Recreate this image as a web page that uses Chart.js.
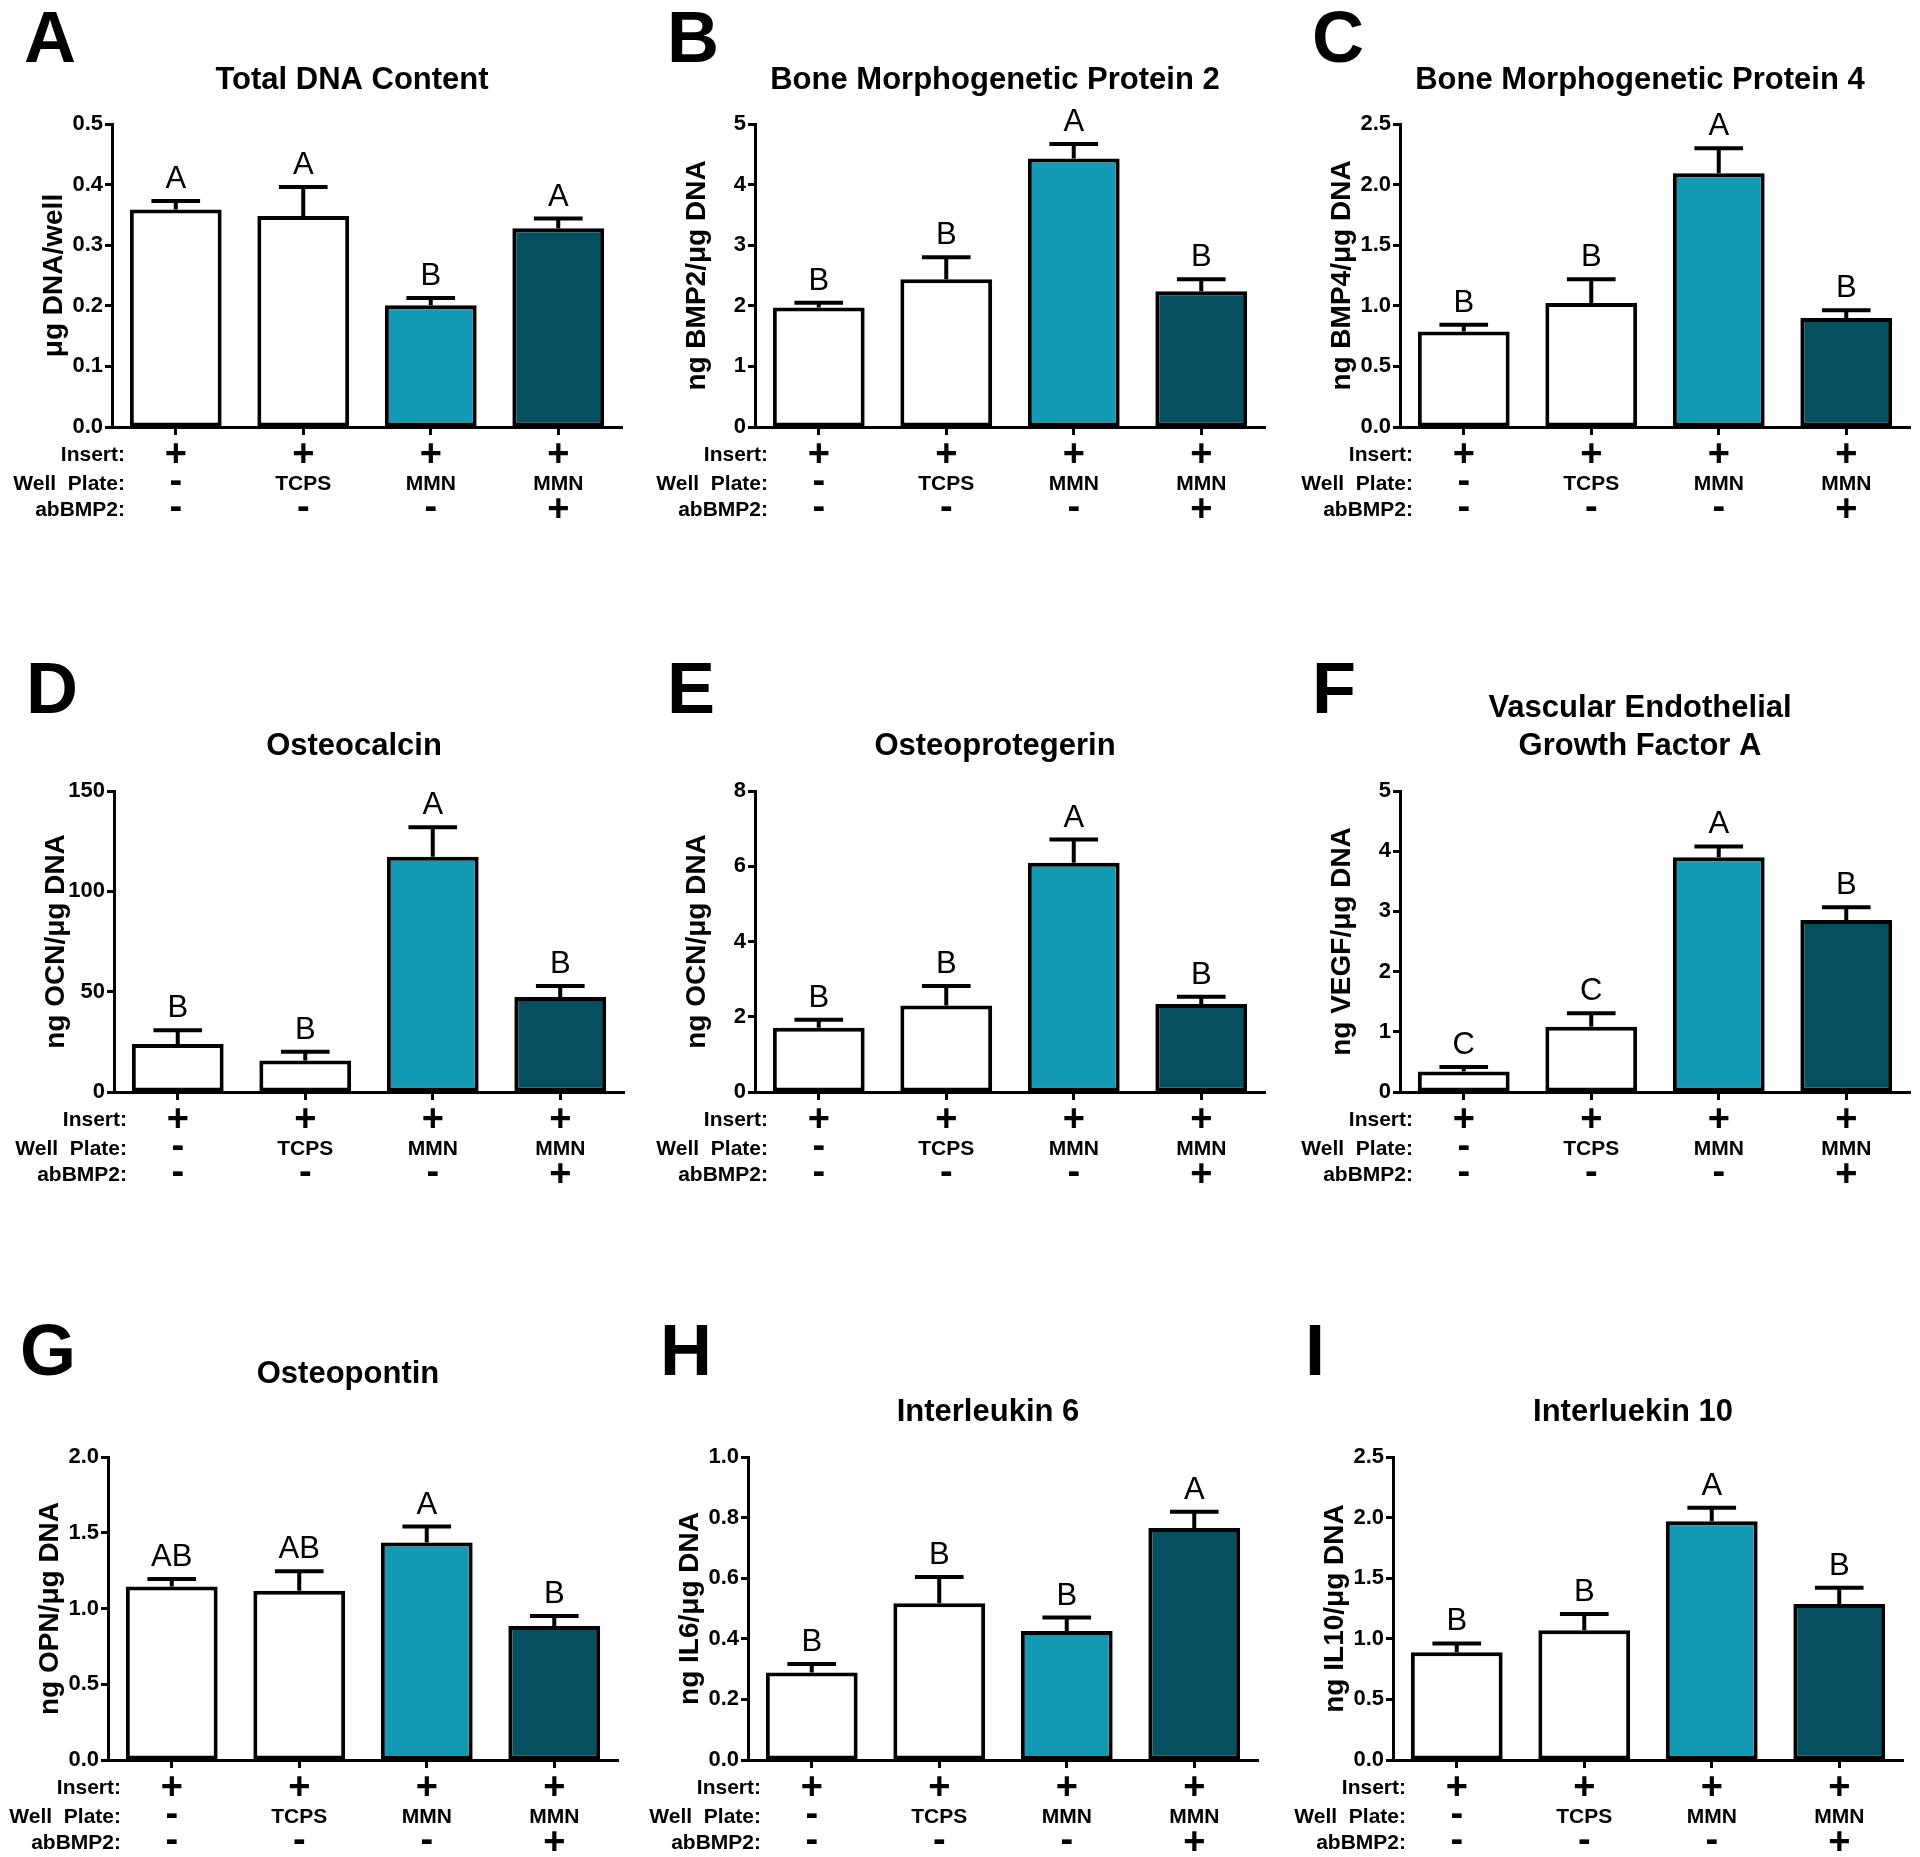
<!DOCTYPE html>
<html>
<head>
<meta charset="utf-8">
<title>Bone marker panels</title>
<script src="https://cdn.jsdelivr.net/npm/chart.js@4.4.1/dist/chart.umd.min.js"></script>
<style>
  html, body { margin: 0; padding: 0; background: #fff; }
  #fig { position: relative; width: 1920px; height: 1857px; overflow: hidden; }
  #fig canvas { position: absolute; }
</style>
</head>
<body>
<div id="fig"></div>
<script>
// groups (x categories) and the condition table under each chart
const groups = ['Insert', 'Insert + TCPS', 'Insert + MMN', 'Insert + MMN + abBMP2'];
const rowNames = ['Insert:', 'Well  Plate:', 'abBMP2:'];
const insertRow = ['+', '+', '+', '+'];
const wellPlateRow = ['-', 'TCPS', 'MMN', 'MMN'];
const abBMP2Row = ['-', '-', '-', '+'];

// A - Total DNA content
const meanA = [0.359, 0.348, 0.201, 0.328];
const errA = [0.014, 0.048, 0.012, 0.016];
const sigA = ['A', 'A', 'B', 'A'];
// B - BMP2
const meanB = [1.97, 2.44, 4.43, 2.24];
const errB = [0.08, 0.36, 0.24, 0.20];
const sigB = ['B', 'B', 'A', 'B'];
// C - BMP4
const meanC = [0.787, 1.023, 2.094, 0.90];
const errC = [0.057, 0.197, 0.206, 0.063];
const sigC = ['B', 'B', 'A', 'B'];
// D - Osteocalcin
const meanD = [23.9, 15.7, 117.2, 47.4];
const errD = [6.9, 4.3, 14.7, 5.4];
const sigD = ['B', 'B', 'A', 'B'];
// E - Osteoprotegerin
const meanE = [1.71, 2.30, 6.09, 2.34];
const errE = [0.21, 0.52, 0.62, 0.19];
const sigE = ['B', 'B', 'A', 'B'];
// F - VEGF-A
const meanF = [0.342, 1.083, 3.90, 2.856];
const errF = [0.074, 0.227, 0.18, 0.214];
const sigF = ['C', 'C', 'A', 'B'];
// G - Osteopontin
const meanG = [1.146, 1.117, 1.436, 0.885];
const errG = [0.049, 0.129, 0.105, 0.065];
const sigG = ['AB', 'AB', 'A', 'B'];
// H - IL6
const meanH = [0.289, 0.517, 0.426, 0.766];
const errH = [0.028, 0.087, 0.044, 0.053];
const sigH = ['B', 'B', 'B', 'A'];
// I - IL10
const meanI = [0.889, 1.070, 1.970, 1.288];
const errI = [0.073, 0.134, 0.112, 0.133];
const sigI = ['B', 'B', 'A', 'B'];

// y axis ticks: [max, step, decimals]
const ticksA = [0.5, 0.1, 1];
const ticksB = [5, 1, 0];
const ticksC = [2.5, 0.5, 1];
const ticksD = [150, 50, 0];
const ticksE = [8, 2, 0];
const ticksF = [5, 1, 0];
const ticksG = [2.0, 0.5, 1];
const ticksH = [1.0, 0.2, 1];
const ticksI = [2.5, 0.5, 1];

const barColors = ['#ffffff', '#ffffff', '#129ab5', '#054f61'];
const FONT = "'Liberation Sans', Arial, Helvetica, sans-serif";

// page layout (pixels)
const cellW = 640;
const rowTop = [0, 560, 1240];
const rowH = [560, 680, 617];
const plotTop = [124, 791, 1457];
const plotBottom = [427, 1092, 1760];
const letterBase = [62, 713, 1375];
const plotW = 510;
const yAxisW = 60;

const panels = [
  { key: 'A', row: 0, col: 0, axisX: 112, title: ['Total DNA Content'], titleY: [80], yTitle: 'μg DNA/well', mean: meanA, err: errA, sig: sigA, ticks: ticksA },
  { key: 'B', row: 0, col: 1, axisX: 755, title: ['Bone Morphogenetic Protein 2'], titleY: [80], yTitle: 'ng BMP2/μg DNA', mean: meanB, err: errB, sig: sigB, ticks: ticksB },
  { key: 'C', row: 0, col: 2, axisX: 1400, title: ['Bone Morphogenetic Protein 4'], titleY: [80], yTitle: 'ng BMP4/μg DNA', mean: meanC, err: errC, sig: sigC, ticks: ticksC },
  { key: 'D', row: 1, col: 0, axisX: 114, title: ['Osteocalcin'], titleY: [746], yTitle: 'ng OCN/μg DNA', mean: meanD, err: errD, sig: sigD, ticks: ticksD },
  { key: 'E', row: 1, col: 1, axisX: 755, title: ['Osteoprotegerin'], titleY: [746], yTitle: 'ng OCN/μg DNA', mean: meanE, err: errE, sig: sigE, ticks: ticksE },
  { key: 'F', row: 1, col: 2, axisX: 1400, title: ['Vascular Endothelial', 'Growth Factor A'], titleY: [708, 746], yTitle: 'ng VEGF/μg DNA', mean: meanF, err: errF, sig: sigF, ticks: ticksF },
  { key: 'G', row: 2, col: 0, axisX: 108, title: ['Osteopontin'], titleY: [1374], yTitle: 'ng OPN/μg DNA', mean: meanG, err: errG, sig: sigG, ticks: ticksG },
  { key: 'H', row: 2, col: 1, axisX: 748, title: ['Interleukin 6'], titleY: [1412], yTitle: 'ng IL6/μg DNA', mean: meanH, err: errH, sig: sigH, ticks: ticksH },
  { key: 'I', row: 2, col: 2, axisX: 1393, title: ['Interluekin 10'], titleY: [1412], yTitle: 'ng IL10/μg DNA', mean: meanI, err: errI, sig: sigI, ticks: ticksI }
];
const panelById = {};

// error bars, letters, titles and the condition table
const panelDecor = {
  id: 'panelDecor',
  afterDatasetsDraw(chart) {
    const p = panelById[chart.canvas.id];
    const ctx = chart.ctx;
    const y = chart.scales.y;
    const bars = chart.getDatasetMeta(0).data;
    ctx.save();
    ctx.strokeStyle = '#000';
    ctx.lineWidth = 4;
    ctx.fillStyle = '#000';
    ctx.font = '31px ' + FONT;
    ctx.textAlign = 'center';
    ctx.textBaseline = 'alphabetic';
    bars.forEach((bar, i) => {
      const yTop = y.getPixelForValue(p.mean[i]);
      const yCap = y.getPixelForValue(p.mean[i] + p.err[i]);
      const half = bar.width * 0.265;
      ctx.beginPath();
      ctx.moveTo(bar.x, yTop);
      ctx.lineTo(bar.x, yCap);
      ctx.moveTo(bar.x - half, yCap);
      ctx.lineTo(bar.x + half, yCap);
      ctx.stroke();
      ctx.fillText(p.sig[i], bar.x, yCap - 13);
    });
    ctx.restore();
  },
  afterDraw(chart) {
    const p = panelById[chart.canvas.id];
    const ctx = chart.ctx;
    const area = chart.chartArea;
    const ox = p.cellX, oy = p.cellY;
    ctx.save();
    ctx.fillStyle = '#000';

    // panel letter
    ctx.font = 'bold 72px ' + FONT;
    ctx.textAlign = 'left';
    ctx.textBaseline = 'alphabetic';
    ctx.fillText(p.key, p.axisX - 88 - ox, letterBase[p.row] - oy);

    // title
    ctx.font = 'bold 31px ' + FONT;
    ctx.textAlign = 'center';
    ctx.textBaseline = 'middle';
    p.title.forEach((t, k) => ctx.fillText(t, p.axisX + 240 - ox, p.titleY[k] - oy));

    // y axis title
    ctx.save();
    ctx.translate(p.axisX - 58 - ox, (area.top + area.bottom) / 2);
    ctx.rotate(-Math.PI / 2);
    ctx.font = 'bold 28px ' + FONT;
    ctx.fillText(p.yTitle, 0, 0);
    ctx.restore();

    // condition table
    const rows = [insertRow, wellPlateRow, abBMP2Row];
    const offs = [26, 55, 81];
    const xs = chart.scales.x;
    ctx.textBaseline = 'alphabetic';
    rows.forEach((vals, r) => {
      const cy = area.bottom + offs[r];
      ctx.font = 'bold 21px ' + FONT;
      ctx.textAlign = 'right';
      ctx.fillText(rowNames[r], area.left + 13, cy + 7.5);
      ctx.textAlign = 'center';
      vals.forEach((v, i) => {
        const cx = xs.getPixelForValue(i);
        if (v === '+') {
          ctx.font = 'bold 38px ' + FONT;
          ctx.fillText(v, cx, cy + 13);
        } else if (v === '-') {
          ctx.font = 'bold 38px ' + FONT;
          ctx.fillText(v, cx, cy + 11);
        } else {
          ctx.font = 'bold 21px ' + FONT;
          ctx.fillText(v, cx, cy + 7.5);
        }
      });
    });
    ctx.restore();
  }
};

const fig = document.getElementById('fig');

function makePanel(p) {
  p.cellX = p.col * cellW;
  p.cellY = rowTop[p.row];
  const h = rowH[p.row];
  const cv = document.createElement('canvas');
  cv.id = 'panel' + p.key;
  cv.width = cellW;
  cv.height = h;
  cv.style.left = p.cellX + 'px';
  cv.style.top = p.cellY + 'px';
  cv.style.width = cellW + 'px';
  cv.style.height = h + 'px';
  fig.appendChild(cv);
  panelById[cv.id] = p;

  const [yMax, yStep, dec] = p.ticks;
  new Chart(cv, {
    type: 'bar',
    data: {
      labels: groups,
      datasets: [{
        data: p.mean,
        backgroundColor: barColors,
        borderColor: '#000',
        borderWidth: 4,
        borderSkipped: false,
        barPercentage: 0.72,
        categoryPercentage: 1
      }]
    },
    options: {
      responsive: false,
      animation: false,
      devicePixelRatio: 1,
      layout: {
        padding: {
          left: p.axisX - p.cellX - yAxisW,
          right: p.cellX + cellW - (p.axisX + plotW),
          top: plotTop[p.row] - p.cellY,
          bottom: p.cellY + h - plotBottom[p.row]
        }
      },
      plugins: {
        legend: { display: false },
        tooltip: { enabled: false },
        title: { display: false }
      },
      scales: {
        x: {
          z: 1,
          offset: true,
          grid: { offset: false, drawOnChartArea: false, drawTicks: true, tickLength: 8, tickWidth: 3, tickColor: '#000' },
          border: { display: true, color: '#000', width: 3 },
          ticks: { display: false },
          afterFit: s => { s.height = 0; }
        },
        y: {
          z: 1,
          min: 0,
          max: yMax,
          grid: { drawOnChartArea: false, drawTicks: true, tickLength: 7, tickWidth: 3, tickColor: '#000' },
          border: { display: true, color: '#000', width: 3 },
          ticks: {
            stepSize: yStep,
            padding: 2,
            color: '#000',
            font: { family: FONT, size: 22, weight: 'bold' },
            callback: v => Number(v).toFixed(dec)
          },
          afterFit: s => { s.width = yAxisW; }
        }
      }
    },
    plugins: [panelDecor]
  });
}

panels.forEach(makePanel);
</script>
</body>
</html>
